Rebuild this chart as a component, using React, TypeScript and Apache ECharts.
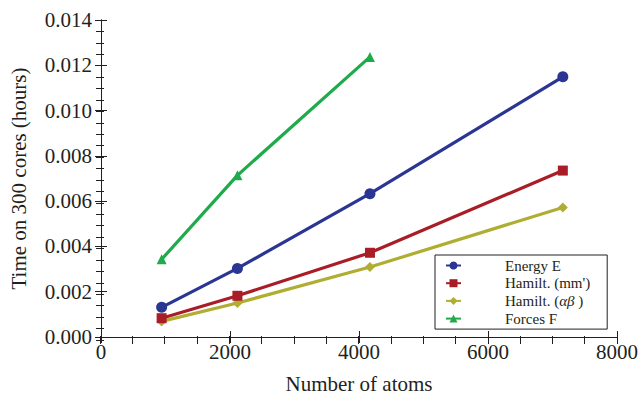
import React, { useEffect, useRef } from "react";
import * as echarts from "echarts";

const atoms = [940, 2115, 4170, 7160];
const energyE = [0.00131, 0.00303, 0.00633, 0.01149];
const hamiltMM = [0.00083, 0.00182, 0.00372, 0.00735];
const hamiltAB = [0.00069, 0.0015, 0.00309, 0.00572];
const forcesF = [0.00343, 0.00714, 0.01237];

const seriesNames = ["Energy E", "Hamilt. (mm')", "Hamilt. (αβ)", "Forces F"];
const seriesColors = ["#2b3593", "#a91d26", "#afae32", "#1faa4b"];
const seriesSymbols = ["circle", "rect", "diamond", "triangle"];
const seriesValues = [energyE, hamiltMM, hamiltAB, forcesF];

const FONT = "'Liberation Serif', 'DejaVu Serif', serif";
const TEXT = "#231f20";

export default function App() {
  const ref = useRef<HTMLDivElement>(null);
  useEffect(() => {
    if (!ref.current) return;
    const chart = echarts.init(ref.current, undefined, { renderer: "svg" });
    const axisLine = { show: true, lineStyle: { color: TEXT, width: 1 } };
    const tick = { show: true, inside: true, length: 6, lineStyle: { color: TEXT } };
    const minorTickStyle = { show: true, inside: true, length: 4, lineStyle: { color: TEXT } };
    const legendText = { fontFamily: FONT, fontSize: 15, color: TEXT, lineHeight: 17 };
    const gridRect = { left: 100, right: 25, top: 20, bottom: 59 };
    const minorX = (position: string) => ({
      type: "value",
      gridIndex: 1,
      position,
      min: 0,
      max: 8000,
      interval: 500,
      axisLine: { show: false },
      axisTick: minorTickStyle,
      splitLine: { show: false },
      axisLabel: { show: false },
    });
    const minorY = (position: string) => ({
      type: "value",
      gridIndex: 1,
      position,
      min: 0,
      max: 0.014,
      interval: 0.0005,
      axisLine: { show: false },
      axisTick: minorTickStyle,
      splitLine: { show: false },
      axisLabel: { show: false },
    });
    chart.setOption({
      animation: false,
      backgroundColor: "#ffffff",
      grid: [gridRect, gridRect],
      xAxis: [
        {
          type: "value",
          min: 0,
          max: 8000,
          interval: 2000,
          name: "Number of atoms",
          nameLocation: "middle",
          nameGap: 36,
          nameTextStyle: { fontFamily: FONT, fontSize: 21, color: TEXT },
          axisLine,
          axisTick: tick,
          splitLine: { show: false },
          axisLabel: {
            fontFamily: FONT,
            fontSize: 21,
            color: TEXT,
            margin: 4,
            formatter: (v: number) => String(v),
          },
        },
        {
          type: "value",
          position: "top",
          min: 0,
          max: 8000,
          interval: 2000,
          axisLine,
          axisTick: tick,
          splitLine: { show: false },
          axisLabel: { show: false },
        },
        minorX("bottom"),
        minorX("top"),
      ],
      yAxis: [
        {
          type: "value",
          min: 0,
          max: 0.014,
          interval: 0.002,
          name: "Time on 300 cores (hours)",
          nameLocation: "middle",
          nameGap: 72,
          nameTextStyle: { fontFamily: FONT, fontSize: 21, color: TEXT },
          axisLine,
          axisTick: tick,
          splitLine: { show: false },
          axisLabel: {
            fontFamily: FONT,
            fontSize: 21,
            color: TEXT,
            margin: 9,
            formatter: (v: number) => v.toFixed(3),
          },
        },
        {
          type: "value",
          position: "right",
          min: 0,
          max: 0.014,
          interval: 0.002,
          axisLine,
          axisTick: tick,
          splitLine: { show: false },
          axisLabel: { show: false },
        },
        minorY("left"),
        minorY("right"),
      ],
      legend: {
        orient: "vertical",
        left: 435,
        top: 255,
        padding: [2, 17, 2, 10],
        itemGap: 0.7,
        itemWidth: 15,
        itemHeight: 10,
        borderColor: TEXT,
        borderWidth: 1,
        backgroundColor: "#ffffff",
        data: seriesNames,
        formatter: (name: string) =>
          name === "Hamilt. (αβ)" ? "{n|Hamilt. (}{it|αβ}{n| )}" : "{n|" + name + "}",
        textStyle: {
          ...legendText,
          padding: [0, 0, 0, 39],
          rich: {
            n: { ...legendText },
            it: { ...legendText, fontStyle: "italic" },
          },
        },
      },
      series: seriesNames.map((name, i) => ({
        name,
        type: "line",
        xAxisIndex: 0,
        yAxisIndex: 0,
        data: seriesValues[i].map((v, j) => [atoms[j], v]),
        symbol: seriesSymbols[i],
        symbolSize: seriesSymbols[i] === "circle" ? 11 : 10,
        showAllSymbol: true,
        color: seriesColors[i],
        lineStyle: { color: seriesColors[i], width: 3.2 },
        itemStyle: { color: seriesColors[i] },
        z: 10 - i,
      })),
    });
    return () => chart.dispose();
  }, []);
  return (
    <div
      ref={ref}
      style={{ position: "fixed", left: 0, top: 0, width: 642, height: 399 }}
    />
  );
}
